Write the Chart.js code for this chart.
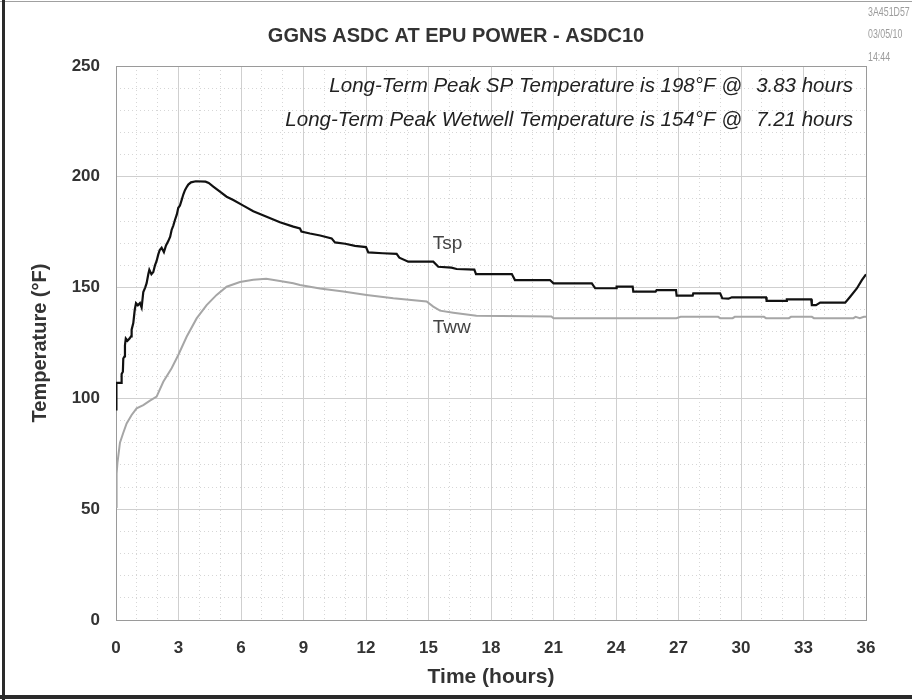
<!DOCTYPE html>
<html>
<head>
<meta charset="utf-8">
<title>GGNS ASDC AT EPU POWER - ASDC10</title>
<script src="https://cdn.jsdelivr.net/npm/chart.js@4.4.1/dist/chart.umd.min.js"></script>
<style>
    html, body { margin: 0; padding: 0; background: #fff; }
    #wrap { width: 912px; height: 700px; }
</style>
</head>
<body>
<div id="wrap"><canvas id="asdc-chart" width="912" height="700"></canvas></div>
<script>
// Suppression pool (Tsp) and wetwell (Tww) temperatures, ASDC10 case
const tspHours = [
    0.00, 0.02, 0.25, 0.27, 0.33, 0.35, 0.41, 0.43, 0.47, 0.55, 0.65, 0.72, 0.75, 0.83, 0.90, 0.96,
    1.05, 1.15, 1.23, 1.31, 1.40, 1.47, 1.55, 1.60, 1.70, 1.79, 1.87, 1.95, 2.03, 2.10, 2.19, 2.30,
    2.40, 2.51, 2.60, 2.67, 2.75, 2.83, 2.92, 2.99, 3.07, 3.15, 3.23, 3.31, 3.40, 3.47, 3.60, 3.83,
    4.30, 4.45, 4.67, 4.99, 5.31, 5.63, 6.11, 6.59, 7.23, 7.87, 8.51, 8.83, 8.90, 9.31, 9.80, 10.35,
    10.51, 11.00, 11.47, 12.00, 12.11, 12.80, 13.47, 13.60, 14.03, 15.23, 15.47, 16.10, 16.35, 17.20, 17.28, 19.00,
    19.15, 20.83, 21.00, 22.84, 23.00, 24.00, 24.03, 24.80, 24.83, 25.90, 25.95, 26.88, 26.91, 27.68, 27.71, 29.00,
    29.10, 29.40, 29.56, 31.20, 31.23, 32.17, 32.20, 33.37, 33.40, 33.60, 33.80, 35.00, 35.24, 35.56, 35.80, 36.00,
];
const tspTemps = [
    95, 107, 107, 111, 112, 118, 119, 124, 127, 126, 127, 128, 131, 134, 140, 143,
    142, 143, 141, 148, 150, 152, 156, 158, 156, 157, 160, 162, 165, 167, 168, 166,
    169, 171, 173, 176, 178, 180.5, 183, 186, 187, 189.5, 192, 194, 195.5, 196.5, 197.5, 198,
    197.8, 197.2, 195.6, 193.3, 191, 189.5, 187, 184.5, 182, 179.5, 177.5, 176.7, 175.3, 174.4, 173.5, 172.2,
    170.4, 169.8, 168.8, 168.3, 165.9, 165.5, 165.2, 163.5, 161.7, 161.7, 159.4, 159.0, 158.4, 158.1, 156.1, 156.1,
    153.4, 153.4, 151.9, 151.9, 149.7, 149.7, 150.4, 150.4, 148.2, 148.2, 148.9, 148.9, 146.4, 146.4, 147.4, 147.4,
    145.2, 145.0, 145.6, 145.6, 144.0, 144.0, 144.7, 144.7, 142.1, 142.1, 143.2, 143.2, 145.9, 149.6, 153.4, 156.0,
];
const twwHours = [
    0.00, 0.02, 0.04, 0.07, 0.11, 0.19, 0.35, 0.51, 0.75, 0.99, 1.31, 1.63, 1.95, 2.27, 2.67, 2.99,
    3.39, 3.87, 4.35, 4.83, 5.31, 5.95, 6.59, 7.21, 7.87, 8.51, 8.83, 9.79, 10.91, 12.03, 13.31, 14.91,
    15.23, 15.55, 16.19, 17.30, 20.90, 21.00, 26.90, 27.10, 28.90, 29.00, 29.60, 29.70, 31.10, 31.20,
    32.30, 32.40, 33.40, 33.50, 35.40, 35.50, 35.70, 35.90, 36.00,
];
const twwTemps = [
    51, 62, 66, 71, 74, 80, 84.5, 88.7, 92.5, 95.5, 97, 99, 100.8, 107.5, 113.6, 119.6,
    127.8, 136.1, 142.1, 146.7, 150.4, 152.5, 153.5, 154, 153, 152, 151.2, 149.6, 148.2, 146.7, 145.2, 143.7,
    141.4, 139.6, 138.7, 137.3, 137.0, 136.2, 136.2, 136.8, 136.8, 136.2, 136.2, 136.8, 136.8, 136.2,
    136.2, 136.8, 136.8, 136.2, 136.2, 136.8, 136.2, 136.8, 136.8,
];
const hourTicks = [0, 3, 6, 9, 12, 15, 18, 21, 24, 27, 30, 33, 36];
const tempTicks = [0, 50, 100, 150, 200, 250];

const chartTitle = "GGNS ASDC AT EPU POWER - ASDC10";
const stampLines = ["3A451D57", "03/05/10", "14:44"];
const peakNotes = [
    ["Long-Term Peak SP Temperature is 198°F @", "3.83 hours"],
    ["Long-Term Peak Wetwell Temperature is 154°F @", "7.21 hours"],
];
const curveLabels = [
    { text: "Tsp", hour: 15.2, temp: 170 },
    { text: "Tww", hour: 15.2, temp: 132 },
];

const FONT = '"Liberation Sans", Arial, sans-serif';
const gridMajor = "#cfcfcf";
const gridMinor = "#d6d6d6";
const frameGray = "#9a9a9a";

function toPoints(xs, ys) {
    return xs.map((x, i) => ({ x: x, y: ys[i] }));
}

// frame, title, stamp, peak notes and curve labels
const decorations = {
    id: "decorations",
    afterDraw(chart) {
        const ctx = chart.ctx;
        const area = chart.chartArea;
        ctx.save();

        // outer frame
        ctx.fillStyle = "#a0a0a0";
        ctx.fillRect(0, 1, 912, 1);
        ctx.fillStyle = "#2a2a2a";
        ctx.fillRect(2, 0, 3, 700);
        ctx.fillRect(0, 695, 912, 4);

        // title
        ctx.fillStyle = "#333";
        ctx.font = "bold 20px " + FONT;
        ctx.textAlign = "center";
        ctx.textBaseline = "middle";
        ctx.fillText(chartTitle, 456, 36);

        // run stamp, narrow lettering
        ctx.fillStyle = "#9c9c9c";
        ctx.font = "13px " + FONT;
        ctx.textAlign = "left";
        stampLines.forEach((s, i) => {
            ctx.save();
            ctx.translate(868, 12 + i * 22.5);
            ctx.scale(0.68, 1);
            ctx.fillText(s, 0, 0);
            ctx.restore();
        });

        // peak notes
        ctx.fillStyle = "#222";
        ctx.font = "italic 20.5px " + FONT;
        ctx.textAlign = "right";
        peakNotes.forEach((n, i) => {
            const y = area.top + 20 + i * 34;
            ctx.fillText(n[0], area.right - 124, y);
            ctx.fillText(n[1], area.right - 13, y);
        });

        // curve labels
        const xs = chart.scales.x, ys = chart.scales.y;
        ctx.fillStyle = "#444";
        ctx.font = "19px " + FONT;
        ctx.textAlign = "left";
        curveLabels.forEach(l => {
            ctx.fillText(l.text, xs.getPixelForValue(l.hour), ys.getPixelForValue(l.temp));
        });
        ctx.restore();
    },
};

const canvas = document.getElementById("asdc-chart");
new Chart(canvas, {
    type: "line",
    data: {
        datasets: [
            {
                label: "Tsp",
                data: toPoints(tspHours, tspTemps),
                borderColor: "#111",
                borderWidth: 2.2,
                pointRadius: 0,
                tension: 0,
                xAxisID: "x",
                yAxisID: "y",
            },
            {
                label: "Tww",
                data: toPoints(twwHours, twwTemps),
                borderColor: "#a6a6a6",
                borderWidth: 2,
                pointRadius: 0,
                tension: 0,
                xAxisID: "x",
                yAxisID: "y",
            },
        ],
    },
    options: {
        responsive: false,
        animation: false,
        devicePixelRatio: 1,
        layout: { padding: { top: 66, right: 46, bottom: 0, left: 0 } },
        plugins: {
            legend: { display: false },
            tooltip: { enabled: false },
        },
        scales: {
            xMinor: {
                type: "linear",
                position: "bottom",
                min: 0,
                max: 36,
                ticks: { stepSize: 1, display: false },
                grid: { color: gridMinor, drawTicks: false },
                border: { display: false, dash: [1, 3] },
                afterFit: s => { s.height = 0; },
            },
            yMinor: {
                type: "linear",
                position: "left",
                min: 0,
                max: 250,
                ticks: { stepSize: 10, display: false },
                grid: { color: gridMinor, drawTicks: false },
                border: { display: false, dash: [1, 3] },
                afterFit: s => { s.width = 0; },
            },
            x: {
                type: "linear",
                position: "bottom",
                min: 0,
                max: 36,
                afterBuildTicks: s => { s.ticks = hourTicks.map(v => ({ value: v })); },
                ticks: {
                    color: "#333",
                    font: { family: FONT, size: 17, weight: "bold" },
                    padding: 18,
                },
                grid: {
                    color: c => (c.tick && (c.tick.value === 0 || c.tick.value === 36)) ? frameGray : gridMajor,
                    drawTicks: false,
                },
                border: { color: frameGray },
                title: {
                    display: true,
                    text: "Time (hours)",
                    color: "#333",
                    font: { family: FONT, size: 21, weight: "bold" },
                    padding: { top: 0, bottom: 10 },
                },
                afterFit: s => { s.height = 80; },
            },
            y: {
                type: "linear",
                position: "left",
                min: 0,
                max: 250,
                afterBuildTicks: s => { s.ticks = tempTicks.map(v => ({ value: v })); },
                ticks: {
                    color: "#333",
                    font: { family: FONT, size: 17, weight: "bold" },
                    padding: 16,
                },
                grid: {
                    color: c => (c.tick && (c.tick.value === 0 || c.tick.value === 250)) ? frameGray : gridMajor,
                    drawTicks: false,
                },
                border: { color: frameGray },
                title: {
                    display: true,
                    text: "Temperature (°F)",
                    color: "#333",
                    font: { family: FONT, size: 20, weight: "bold" },
                    padding: { top: 28, bottom: 0 },
                },
                afterFit: s => { s.width = 116; },
            },
        },
    },
    plugins: [decorations],
});
</script>
</body>
</html>
